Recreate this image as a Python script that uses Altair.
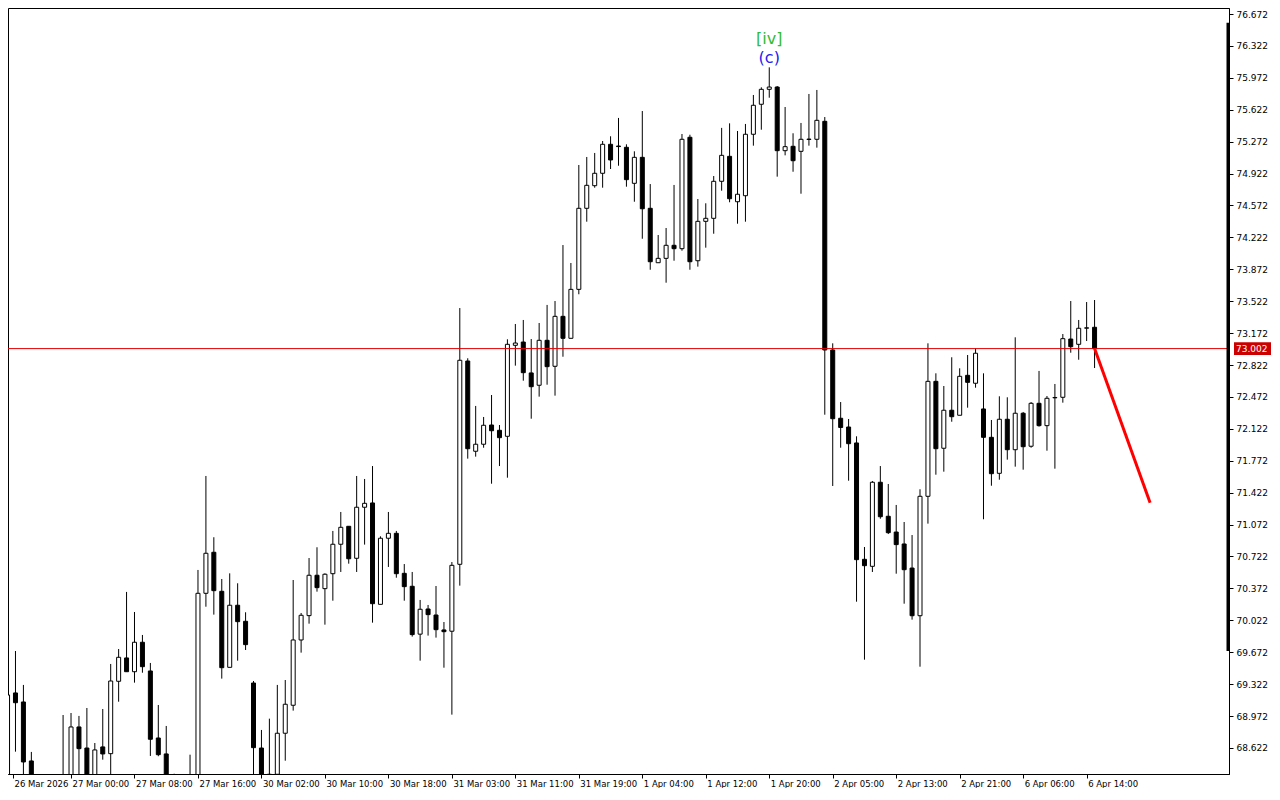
import altair as alt
import pandas as pd
import json

# ---- hourly candles (bar index 0 = 26 Mar 16:00) ----
opens = [68.161, 69.225, 69.126, 68.479, 68.10, 68.05, 68.15, 68.18, 68.311, 68.852,
         68.621, 68.183, 68.633, 68.559, 69.353, 69.609, 69.458, 69.781, 69.466, 68.731,
         68.556, 68.20, 68.12, 68.22, 68.25, 70.318, 70.768, 70.340, 69.506, 70.187,
         70.011, 69.334, 68.621, 68.20, 68.333, 68.783, 69.090, 69.806, 70.073, 70.516,
         70.369, 70.533, 70.856, 71.053, 70.702, 71.262, 71.309, 70.197, 70.922, 70.976,
         70.537, 70.395, 69.870, 70.146, 70.080, 69.916, 69.902, 70.636, 72.866, 71.876,
         71.953, 72.164, 72.106, 72.040, 73.038, 73.074, 72.735, 72.600, 73.093, 72.808,
         73.356, 73.115, 73.652, 74.541, 74.789, 74.925, 75.243, 75.224, 75.210, 74.815,
         75.100, 74.541, 73.944, 73.992, 74.135, 74.098, 75.320, 73.966, 74.398, 74.431,
         74.837, 75.111, 74.613, 74.679, 75.353, 75.682, 75.846, 75.871, 75.173, 75.221,
         75.166, 75.300, 75.298, 75.495, 72.987, 72.238, 72.142, 71.967, 70.691, 70.614,
         71.536, 71.163, 70.990, 70.859, 70.595, 70.072, 71.382, 72.643, 71.909, 72.326,
         72.271, 72.709, 72.622, 72.340, 72.029, 71.634, 72.227, 71.893, 72.293, 71.931,
         72.402, 72.157, 72.462, 72.468, 73.107, 73.049, 73.226, 73.236]
highs = [69.258, 69.685, 69.313, 68.578, 68.25, 68.20, 68.24, 68.983, 69.005, 68.973,
         69.060, 68.676, 69.049, 69.543, 69.707, 70.333, 70.113, 69.861, 69.554, 69.093,
         68.863, 68.339, 68.26, 68.548, 70.574, 71.605, 70.933, 70.475, 70.537, 70.428,
         70.110, 69.356, 68.819, 68.943, 69.313, 69.367, 70.464, 70.102, 70.705, 70.823,
         70.537, 71.002, 71.210, 71.053, 71.605, 71.572, 71.714, 70.943, 71.210, 71.002,
         70.639, 70.552, 70.245, 70.190, 70.398, 70.003, 70.661, 73.447, 72.896, 72.373,
         72.252, 72.493, 72.164, 73.104, 73.272, 73.316, 73.107, 73.283, 73.481, 73.524,
         74.138, 73.941, 75.016, 75.104, 75.148, 75.279, 75.331, 75.532, 75.243, 75.166,
         75.608, 74.807, 74.248, 74.325, 74.797, 75.356, 75.348, 74.643, 74.596, 74.895,
         75.423, 75.473, 75.389, 75.466, 75.784, 75.868, 76.087, 75.882, 75.652, 75.364,
         75.477, 75.795, 75.839, 75.542, 73.060, 72.416, 72.230, 72.040, 70.826, 71.550,
         71.714, 71.517, 71.287, 71.100, 70.957, 71.459, 73.060, 72.731, 72.592, 72.907,
         72.786, 72.932, 73.005, 72.731, 72.219, 72.479, 72.468, 73.126, 72.307, 72.416,
         72.757, 72.482, 72.614, 73.162, 73.524, 73.316, 73.513, 73.535]
lows = [68.106, 68.581, 68.336, 68.051, 67.95, 67.90, 67.98, 68.05, 68.216, 68.318,
        68.106, 68.106, 68.493, 68.336, 69.129, 69.458, 69.338, 69.447, 68.534, 68.531,
        68.106, 68.02, 67.98, 68.10, 68.161, 70.171, 70.084, 69.382, 69.506, 69.579,
        69.696, 68.216, 68.106, 68.15, 68.249, 68.482, 69.031, 69.667, 69.985, 70.336,
        69.974, 70.237, 70.552, 70.643, 70.552, 70.852, 69.996, 70.197, 70.607, 70.489,
        70.237, 69.843, 69.579, 69.854, 69.832, 69.502, 68.987, 70.402, 71.795, 71.817,
        71.915, 71.520, 71.714, 71.586, 72.815, 72.650, 72.233, 72.475, 72.606, 72.486,
        72.913, 73.115, 73.598, 74.394, 74.767, 74.767, 74.972, 75.008, 74.778, 74.613,
        74.207, 73.867, 73.944, 73.725, 73.966, 74.076, 73.867, 73.901, 74.109, 74.262,
        74.734, 74.607, 74.372, 74.394, 75.228, 75.403, 75.754, 74.888, 75.122, 74.942,
        74.701, 75.228, 75.206, 72.277, 71.495, 71.915, 71.553, 70.226, 69.590, 70.552,
        71.136, 70.968, 70.533, 70.204, 70.029, 69.513, 71.082, 71.619, 71.652, 72.200,
        72.271, 72.354, 72.573, 71.130, 71.498, 71.564, 71.784, 71.707, 71.674, 71.915,
        72.146, 71.882, 71.685, 72.409, 72.957, 72.880, 73.085, 72.789]
closes = [69.203, 69.118, 68.468, 68.139, 68.05, 68.15, 68.10, 68.26, 68.852, 68.614,
          68.161, 68.600, 68.556, 69.356, 69.616, 69.458, 69.781, 69.513, 68.717, 68.548,
          68.161, 68.12, 68.22, 68.25, 70.318, 70.757, 70.347, 69.502, 70.187, 70.007,
          69.755, 68.625, 68.161, 68.333, 68.783, 69.101, 69.806, 70.077, 70.516, 70.380,
          70.527, 70.856, 71.042, 70.697, 71.262, 71.305, 70.204, 70.922, 70.976, 70.533,
          70.391, 69.865, 70.143, 70.084, 69.919, 69.897, 70.625, 72.874, 71.904, 71.953,
          72.161, 72.101, 72.025, 73.049, 73.063, 72.738, 72.584, 73.093, 72.804, 73.356,
          73.115, 73.652, 74.541, 74.793, 74.925, 75.243, 75.071, 75.218, 74.855, 75.100,
          74.536, 73.955, 73.992, 74.135, 74.098, 75.298, 73.955, 74.398, 74.431, 74.837,
          75.122, 74.646, 74.695, 75.353, 75.671, 75.846, 75.871, 75.173, 75.217, 75.063,
          75.298, 75.296, 75.506, 72.987, 72.233, 72.137, 71.959, 70.687, 70.621, 71.536,
          71.158, 70.983, 70.852, 70.577, 70.072, 71.382, 72.643, 71.904, 72.326, 72.255,
          72.698, 72.632, 72.951, 72.029, 71.630, 72.227, 71.893, 72.293, 71.926, 72.402,
          72.157, 72.457, 72.466, 73.111, 73.023, 73.225, 73.230, 73.002]

# ---- axis ticks ----
tick_bars = [0, 8, 16, 24, 32, 40, 48, 56, 64, 72, 80, 88, 96, 104, 112, 120, 128, 136]
tick_labels = ["26 Mar 2026", "27 Mar 00:00", "27 Mar 08:00", "27 Mar 16:00",
               "30 Mar 02:00", "30 Mar 10:00", "30 Mar 18:00", "31 Mar 03:00",
               "31 Mar 11:00", "31 Mar 19:00", "1 Apr 04:00", "1 Apr 12:00",
               "1 Apr 20:00", "2 Apr 05:00", "2 Apr 13:00", "2 Apr 21:00",
               "6 Apr 06:00", "6 Apr 14:00"]
price_ticks = [76.672, 76.322, 75.972, 75.622, 75.272, 74.922, 74.572, 74.222,
               73.872, 73.522, 73.172, 72.822, 72.472, 72.122, 71.772, 71.422,
               71.072, 70.722, 70.372, 70.022, 69.672, 69.322, 68.972, 68.622]

current_price = 73.002
forecast_bars = [137, 144]
forecast_prices = [73.002, 71.31]
wave_bar = 96
wave_top_label, wave_top_price = "[iv]", 76.398
wave_sub_label, wave_sub_price = "(c)", 76.186
side_bar_prices = [76.577, 69.685]

# ---- layout ----
W, H = 1221, 766
x_min, x_max = 0.6875, 153.3125
y_min, y_max = 68.336, 76.738
FONT = "DejaVu Sans"

df = pd.DataFrame({"bar": list(range(len(opens))), "open": opens, "high": highs,
                   "low": lows, "close": closes})

xscale = alt.Scale(domain=[x_min, x_max], nice=False, zero=False)
yscale = alt.Scale(domain=[y_min, y_max], nice=False, zero=False)

label_expr = json.dumps(tick_labels) + "[round(datum.value / 8)]"
xaxis = alt.Axis(values=[max(t, x_min) for t in tick_bars], labelExpr=label_expr,
                 title=None, grid=False, tickSize=4, tickColor="black",
                 domainColor="black", labelAlign="left", labelOffset=1,
                 labelPadding=1, labelFontSize=8.5, labelColor="black",
                 labelFont=FONT, labelOverlap=False, labelFlush=False)
yaxis = alt.Axis(values=price_ticks, format=".3f", orient="right", title=None,
                 grid=False, tickSize=4, tickColor="black", domainColor="black",
                 labelPadding=3, labelFontSize=9, labelColor="black", labelFont=FONT,
                 labelOverlap=False, labelFlush=False)


def X(field):
    return alt.X(field, type="quantitative", scale=xscale, axis=xaxis)


def Y(field):
    return alt.Y(field, type="quantitative", scale=yscale, axis=yaxis)


base = alt.Chart(df)

wicks = base.mark_rule(color="black", strokeWidth=1, clip=True).encode(
    x=X("bar"), y=Y("low"), y2="high")

bodies = base.mark_bar(size=4, stroke="black", strokeWidth=1, clip=True).encode(
    x=X("bar"), y=Y("open"), y2="close",
    fill=alt.condition("datum.close >= datum.open", alt.value("white"), alt.value("black")))

price_df = pd.DataFrame({"price": [current_price]})
price_line = alt.Chart(price_df).mark_rule(color="#e00000", strokeWidth=1, clip=True).encode(
    y=Y("price"))

fc_df = pd.DataFrame({"bar": forecast_bars, "price": forecast_prices})
forecast = alt.Chart(fc_df).mark_line(color="#ff0000", strokeWidth=3, clip=True).encode(
    x=X("bar"), y=Y("price"))

top_df = pd.DataFrame({"bar": [wave_bar], "price": [wave_top_price], "t": [wave_top_label]})
top_text = alt.Chart(top_df).mark_text(fontSize=16, font=FONT, color="#33bb33",
                                       baseline="middle", align="center").encode(
    x=X("bar"), y=Y("price"), text="t:N")

sub_df = pd.DataFrame({"bar": [wave_bar], "price": [wave_sub_price], "t": [wave_sub_label]})
sub_text = alt.Chart(sub_df).mark_text(fontSize=16, font=FONT, color="#2222ee",
                                       baseline="middle", align="center").encode(
    x=X("bar"), y=Y("price"), text="t:N")

tag_df = pd.DataFrame({"price": [current_price], "t": [f"{current_price:.3f}"]})
tag_box = alt.Chart(tag_df).mark_point(
    shape="M-1,-0.35L1,-0.35L1,0.35L-1,0.35Z", filled=True, fill="#cc0000",
    opacity=1, strokeWidth=0, size=1369, clip=False).encode(
    x=alt.value(W + 23.5), y=Y("price"))
tag_text = alt.Chart(tag_df).mark_text(fontSize=9, font=FONT, color="white",
                                       align="left", baseline="middle", clip=False).encode(
    x=alt.value(W + 7), y=Y("price"), text="t:N")

side_df = pd.DataFrame({"p1": [side_bar_prices[0]], "p2": [side_bar_prices[1]]})
side_bar = alt.Chart(side_df).mark_rule(color="black", strokeWidth=3).encode(
    x=alt.value(W - 1), y=Y("p1"), y2="p2")

chart = alt.layer(wicks, bodies, price_line, forecast, top_text, sub_text,
                  side_bar, tag_box, tag_text).properties(
    width=W, height=H, padding=0, background="white"
).configure_view(stroke="black", strokeWidth=1)

chart.save("out.html", embed_options={"renderer": "svg", "actions": False})
